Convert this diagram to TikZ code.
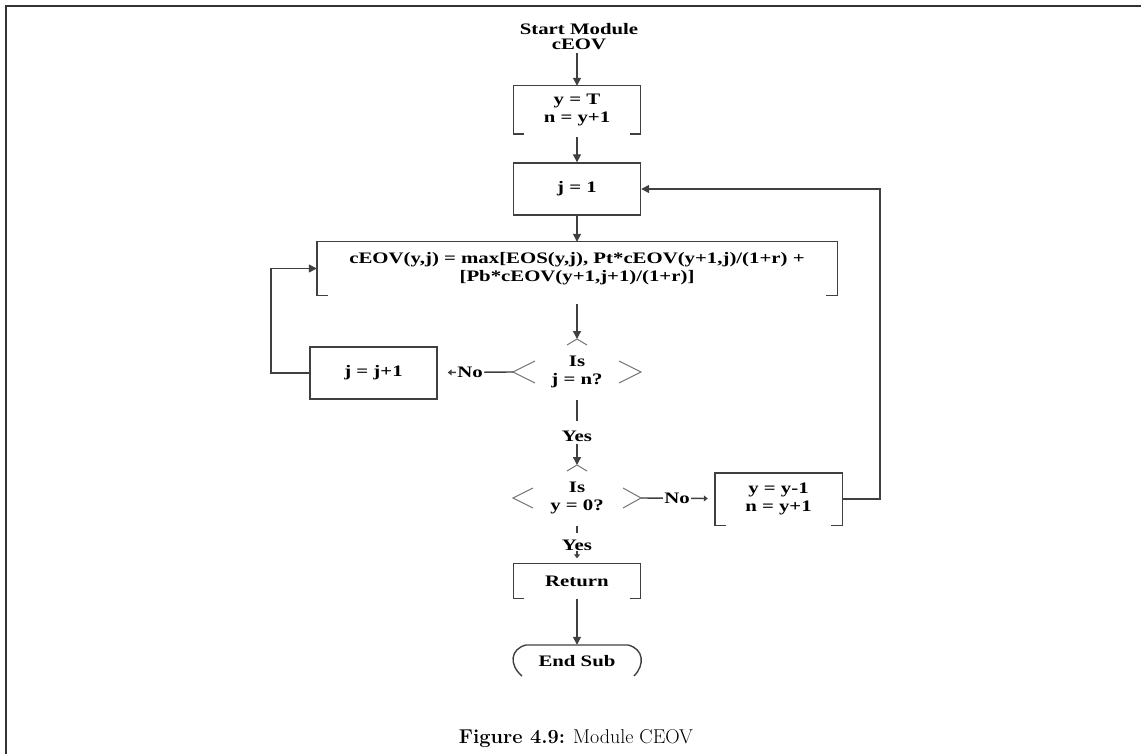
\documentclass[tikz,border=0pt]{standalone}
\usepackage{fontspec}
\newfontfamily\fc[FakeStretch=1.3]{Liberation Serif}
\usetikzlibrary{arrows.meta}
\newcommand\bracketbox[1]{\draw[ln] ([xshift=11pt]#1.south west) -- (#1.south west) -- (#1.north west) -- (#1.north east) -- (#1.south east) -- ([xshift=-11pt]#1.south east);}
\begin{document}
\begin{tikzpicture}[x=1pt,y=-1pt,
  ln/.style={draw=black!75, line width=1.4pt},
  chev/.style={draw=black!55, line width=1pt},
  arr/.style={ln, -{Triangle[length=8pt,width=8pt]}},
  sarr/.style={ln, -{Triangle[length=4pt,width=6pt]}},
  txt/.style={font=\fc\bfseries\fontsize{16}{18}\selectfont, align=center, inner sep=0pt},
  fullbox/.style={txt, draw=black!75, line width=1.4pt, minimum width=127pt, minimum height=52pt},
  openbox/.style={txt, minimum width=127pt, minimum height=48pt},
  lbl/.style={txt, fill=white, inner sep=1.5pt}
]
\useasboundingbox (0,0) rectangle (1141,754);
% frame
\draw[line width=2pt, black!80] (6,754) -- (6,6) -- (1141,6);

% nodes
\node[txt, font=\fc\bfseries\fontsize{16}{15}\selectfont] (start) at (579,37) {Start Module\\cEOV};
\node[openbox] (b1) at (577,110) {y = T\\n = y+1};
\node[fullbox] (b2) at (577,189) {j = 1};
\node[openbox, minimum width=520pt, minimum height=53pt] (b3) at (577,268.5) {cEOV(y,j) = max[EOS(y,j), Pt*cEOV(y+1,j)/(1+r) +\\{[}Pb*cEOV(y+1,j+1)/(1+r){]}};
\node[fullbox] (b4) at (373.5,373) {j = j+1};
\node[txt] (d1) at (577,372) {Is\\j = n?};
\node[txt] (yes1) at (577,436) {Yes};
\node[txt] (d2) at (577,498) {Is\\y = 0?};
\node[openbox, minimum height=52pt] (b5) at (778.5,499) {y = y-1\\n = y+1};
\node[txt] (yes2) at (577,545) {Yes};
\node[openbox, minimum height=35pt] (b6) at (577,581) {Return};
\node[txt, minimum width=130pt, minimum height=32pt] (end) at (577,661) {End Sub};
\node[inner sep=0pt] (cap) at (576,739) {\fontsize{20}{22}\selectfont\textbf{Figure 4.9:} Module CEOV};

\bracketbox{b1}
\bracketbox{b3}
\bracketbox{b5}
\bracketbox{b6}

% decision marks
\coordinate (d1t) at (577,339);
\coordinate (d1l) at (513,372);
\coordinate (d1r) at (641,372);
\coordinate (d1b) at (577,400);
\coordinate (y1a) at (577,421);
\coordinate (y1b) at (577,444);
\coordinate (d2t) at (577,465);
\coordinate (d2l) at (513,498);
\coordinate (d2r) at (641,498);
\coordinate (d2b) at (577,526);
\coordinate (y2a) at (577,533);
\coordinate (y2b) at (577,551);
\coordinate (s0) at (577,53);
\draw[chev] (567,345) -- (d1t) -- (587,345);
\draw[chev] (535,361) -- (d1l) -- (535,383);
\draw[chev] (619,361) -- (d1r) -- (619,383);
\draw[chev] (567,471) -- (d2t) -- (587,471);
\draw[chev] (533,488) -- (d2l) -- (533,508);
\draw[chev] (623,488) -- (d2r) -- (623,508);

% end sub shape
\draw[ln] (522,676) .. controls (509,665) and (510,649) .. (526,645) -- (628,645) .. controls (644,649) and (645,665) .. (634,676);

% connectors
\draw[arr] (s0) -- (b1);
\draw[arr, shorten <=3pt] (b1) -- (b2);
\draw[arr] (b2) -- (b3);
\draw[arr, shorten <=9pt] (b3) -- (d1t);
\draw[sarr, shorten >=10pt] (d1l) -- node[lbl, pos=0.57] {No} (b4);
\draw[ln] (d1b) -- (y1a);
\draw[arr] (y1b) -- (d2t);
\draw[sarr, shorten >=7pt] (d2r) -- node[lbl, pos=0.49] {No} (b5);
\draw[ln] (d2b) -- (y2a);
\draw[sarr, shorten >=5pt] (y2b) -- (b6);
\draw[arr] (b6) -- (end);
\coordinate (rc1) at (880,499);
\coordinate (rc2) at (880,189);
\draw[arr] (b5.east) -- (rc1) -- (rc2) -- (b2.east);
\coordinate (lc1) at (271,373);
\coordinate (lc2) at (271,268.5);
\draw[arr] (b4.west) -- (lc1) -- (lc2) -- (b3.west);
\end{tikzpicture}
\end{document}
